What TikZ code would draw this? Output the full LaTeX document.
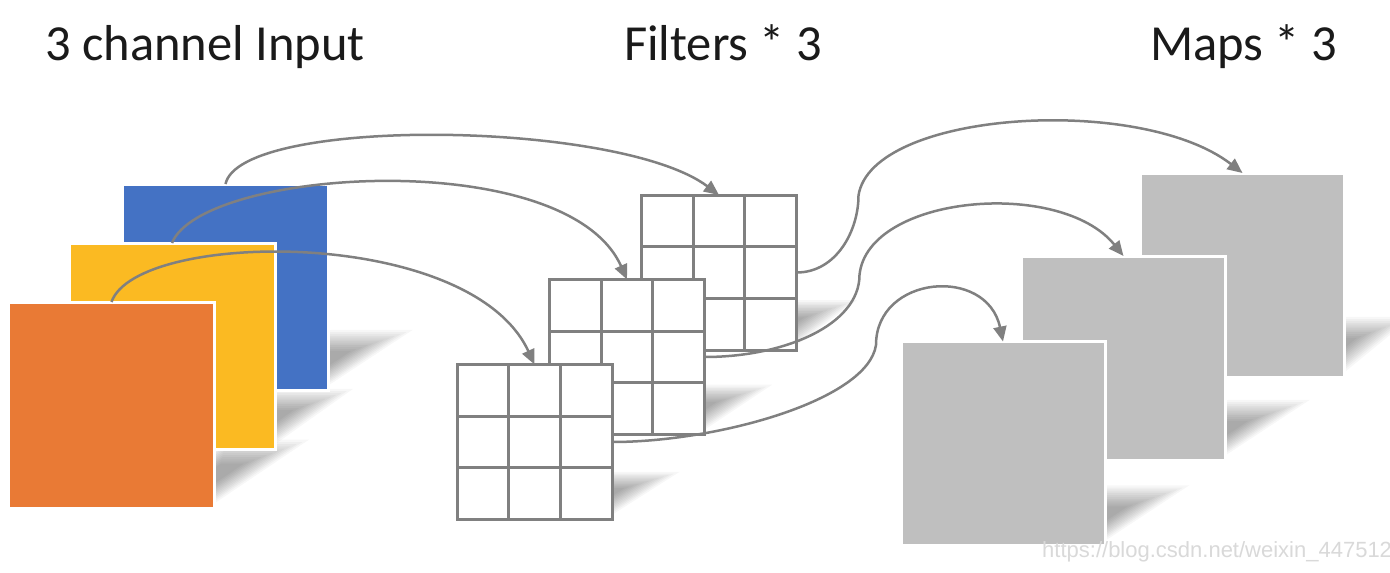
\documentclass[tikz,border=0pt]{standalone}
\usepackage{fontspec}
\setmainfont{Carlito}
\newfontfamily\wmfont{Liberation Sans}
\usetikzlibrary{arrows.meta,calc}
\definecolor{inblue}{HTML}{4472C4}
\definecolor{inyellow}{HTML}{FBBA22}
\definecolor{inorange}{HTML}{E97A35}
\definecolor{mapgray}{HTML}{BFBFBF}
\definecolor{linegray}{HTML}{808080}
\definecolor{txt}{HTML}{1A1A1A}
\pgfdeclarelayer{bg}
\pgfsetlayers{bg,main}
% soft cast shadow to the upper right of a node: #2 = reach to the right, #3 = height
\newcommand\castshadow[3]{%
  \coordinate (shA) at ($(#1.south east)+(-80,-4)$);
  \coordinate (shB) at ($(#1.south east)+(-4,-4)$);
  \coordinate (shC) at ($(#1.south east)+(#2,-#3)$);
  \coordinate (shD) at ($(#1.south east)+(#2-76,-#3)$);
  \coordinate (shM) at ($(shA)!0.5!(shC)$);
  \foreach \s in {1.08,1.0,0.93,0.86,0.79,0.72,0.65,0.58,0.51,0.44,0.37,0.30}{%
    \fill[black, opacity=0.03] ($(shM)!\s!(shA)$) -- ($(shM)!\s!(shB)$) -- ($(shM)!\s!(shC)$) -- ($(shM)!\s!(shD)$) -- cycle;
  }}
\begin{document}
\begin{tikzpicture}[x=1pt,y=-1pt,
  sq/.style={draw=white, line width=3pt, minimum width=206pt, minimum height=206pt, inner sep=0pt, outer sep=0pt},
  mapsq/.style={sq, fill=mapgray, minimum width=204pt, minimum height=204pt},
  gridbox/.style={draw=linegray, line width=3pt, fill=white, minimum width=155pt, minimum height=155pt, inner sep=0pt, outer sep=0pt,
    path picture={
      \foreach \t in {0.3333,0.6667}{
        \draw[linegray, line width=3pt] ($(path picture bounding box.north west)!\t!(path picture bounding box.north east)$) -- ($(path picture bounding box.south west)!\t!(path picture bounding box.south east)$);
        \draw[linegray, line width=3pt] ($(path picture bounding box.north west)!\t!(path picture bounding box.south west)$) -- ($(path picture bounding box.north east)!\t!(path picture bounding box.south east)$);
      }
    }},
  conn/.style={draw=linegray, line width=2.5pt, -{Triangle[length=15pt,width=13pt]}},
  title/.style={anchor=base west, inner sep=0pt, font=\fontsize{50.5}{60}\selectfont, text=txt},
]
\useasboundingbox (0,0) rectangle (1390,573);

% input channels
\node[sq, fill=inblue] (blue) at (225.5,287) {};
\node[sq, fill=inyellow] (yellow) at (172,346) {};
\node[sq, fill=inorange] (orange) at (111.5,405) {};

% filters
\node[gridbox] (fb) at (719,272.5) {};
\node[gridbox] (fm) at (627,357) {};
\node[gridbox] (ff) at (534.5,442) {};

% maps
\node[mapsq] (mb) at (1242.5,275) {};
\node[mapsq] (mm) at (1123.5,358) {};
\node[mapsq] (mf) at (1003,443.5) {};

% shadows
\begin{pgfonlayer}{bg}
  \fill[white] (0,0) rectangle (1390,573);
  \castshadow{blue}{78}{58}
  \castshadow{yellow}{72}{58}
  \castshadow{orange}{88}{66}
  \castshadow{fb}{55}{48}
  \castshadow{fm}{62}{48}
  \castshadow{ff}{62}{46}
  \castshadow{mb}{62}{58}
  \castshadow{mm}{78}{58}
  \castshadow{mf}{78}{58}
\end{pgfonlayer}

% input -> filter connectors
\draw[conn] (blue.north) .. controls +(15,-68) and +(-100,-75) .. (fb.north);
\draw[conn] (yellow.north) .. controls +(30,-75) and +(-60,-135) .. (fm.north);
\draw[conn] (orange.north) .. controls +(25,-72) and +(-64,-139) .. (ff.north);

% filter -> map connectors
\draw[conn] (fb.east) .. controls +(40,0) and +(0,35) .. ++(62,-77) .. controls +(13,-85) and +(-102,-79) .. (mb.north);
\draw[conn] (fm.east) .. controls +(80,0) and +(0,50) .. ++(155,-82) .. controls +(8,-80) and +(-63,-78) .. (mm.north);
\draw[conn] (ff.east) .. controls +(106,0) and +(-8,55) .. ++(264,-97) .. controls +(0,-70) and +(-16,-76) .. (mf.north);

% titles
\node[title] (t1) at (45,60) {3 channel Input};
\node[title] (t2) at (624,60) {Filters * 3};
\node[title] (t3) at (1150,60) {Maps * 3};

% watermark
\node[anchor=base west, inner sep=0pt, font=\wmfont\fontsize{22}{26}\selectfont, text=black!15] (wm) at (1042,557) {https://blog.csdn.net/weixin\_447512};
\end{tikzpicture}
\end{document}
